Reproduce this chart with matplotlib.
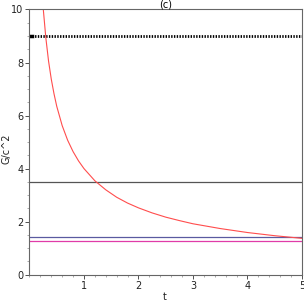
import numpy as np
import matplotlib
matplotlib.use("Agg")
import matplotlib.pyplot as plt
from matplotlib.ticker import MultipleLocator

# red curve, values
t_curve = [0.25, 0.3, 0.35, 0.4, 0.45, 0.5, 0.6, 0.7, 0.8, 0.9, 1.0, 1.2, 1.4,
           1.6, 1.8, 2.0, 2.25, 2.5, 2.75, 3.0, 3.5, 4.0, 4.5, 5.0]
g_curve = [10.08, 8.93, 8.05, 7.37, 6.82, 6.35, 5.62, 5.07, 4.64, 4.29, 4.0,
           3.54, 3.20, 2.92, 2.70, 2.52, 2.33, 2.17, 2.04, 1.92, 1.74, 1.59,
           1.47, 1.37]

# horizontal levels
t_range = [0.0, 5.0]
g_dotted = 9.0
g_gray = 3.5
g_blue = 1.41
g_magenta = 1.26

fig = plt.figure(figsize=(3.04, 3.04), dpi=100)
ax = fig.add_axes([0.097, 0.0964, 0.8964, 0.8724])

ax.plot(t_range, [g_dotted] * 2, color='black', linewidth=2.0,
        linestyle=(0, (0.5, 0.5)))
ax.plot([0.0, 0.04], [g_dotted] * 2, color='black', linewidth=2.5)
ax.plot(t_range, [g_gray] * 2, color='#555555', linewidth=0.9)
ax.plot(t_range, [g_blue] * 2, color='#5a5aa0', linewidth=0.9)
ax.plot(t_range, [g_magenta] * 2, color='#e03ca8', linewidth=0.9)
ax.plot(t_curve, g_curve, color='#ff4d4d', linewidth=0.8)

ax.set_xlim(0, 5)
ax.set_ylim(0, 10)
ax.xaxis.set_major_locator(MultipleLocator(1))
ax.xaxis.set_minor_locator(MultipleLocator(0.2))
ax.yaxis.set_major_locator(MultipleLocator(2))
ax.yaxis.set_minor_locator(MultipleLocator(0.5))
ax.set_xticks([1, 2, 3, 4, 5])
ax.tick_params(which='major', direction='out', length=3, width=0.6,
               labelsize=7, colors='#333333', pad=1.5)
ax.tick_params(which='minor', direction='out', length=1.5, width=0.5,
               colors='#888888')
ax.tick_params(axis='both', labelcolor='#222222')
for s in ax.spines.values():
    s.set_color('#666666')
    s.set_linewidth(0.8)

fig.text(0.543, 0.005, 't', fontsize=7, ha='center', va='bottom', color='#222222')
fig.text(0.006, 0.51, 'G/c^2', fontsize=7, rotation=90, ha='left',
         va='center', color='#222222')
ax.set_title('(c)', fontsize=7, pad=1)

fig.savefig('out.png', dpi=100)
